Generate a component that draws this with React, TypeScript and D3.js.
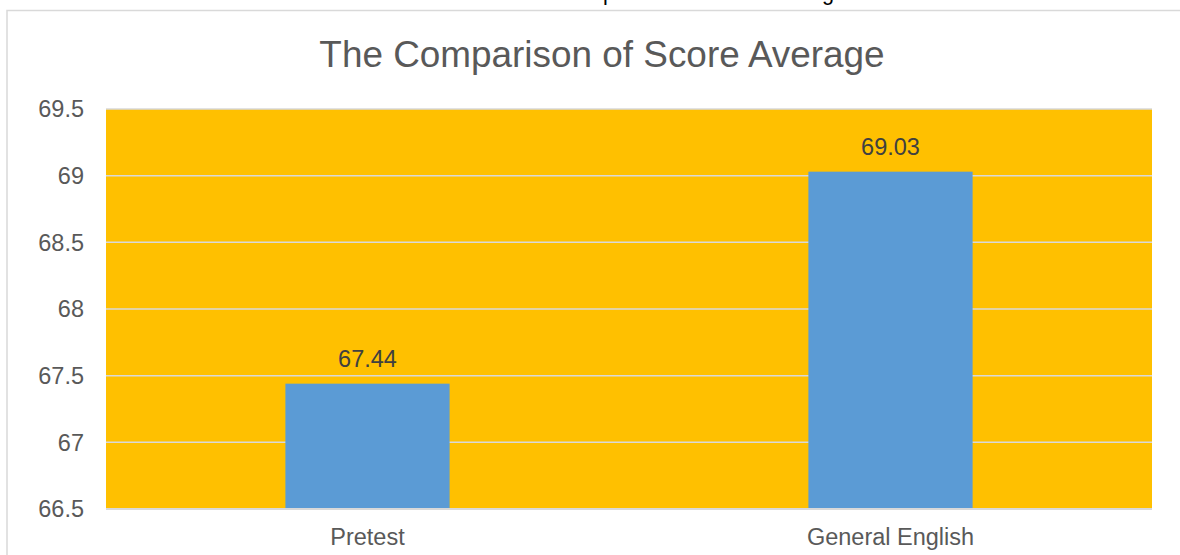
import React from "react";
import * as d3 from "d3";

const categories: string[] = ["Pretest", "General English"];
const values: number[] = [67.44, 69.03];
const valueLabels: string[] = ["67.44", "69.03"];
const yTicks: number[] = [66.5, 67, 67.5, 68, 68.5, 69, 69.5];
const yTickLabels: string[] = ["66.5", "67", "67.5", "68", "68.5", "69", "69.5"];
const title = "The Comparison of Score Average";

const W = 1180;
const H = 555;
const plot = { left: 106, right: 1152, top: 109, bottom: 509 };
const FONT = "Arial, 'Liberation Sans', Helvetica, sans-serif";

export default function App() {
  const x = d3
    .scaleBand<string>()
    .domain(categories)
    .range([plot.left, plot.right])
    .paddingInner(0)
    .paddingOuter(0);
  const y = d3.scaleLinear().domain([66.5, 69.5]).range([plot.bottom, plot.top]);
  const barW = x.bandwidth() * 0.314;

  return (
    <svg
      width={W}
      height={H}
      style={{ position: "absolute", left: 0, top: 0, background: "#fff" }}
    >
      <rect x={0} y={0} width={W} height={H} fill="#ffffff" />
      {/* clipped caption above the chart */}
      <text
        x={680}
        y={0}
        textAnchor="middle"
        fontFamily={FONT}
        fontSize={21.7}
        fill="#000"
      >
        {title}
      </text>
      {/* chart border */}
      <rect
        x={7}
        y={10.5}
        width={1200}
        height={560}
        fill="#fff"
        stroke="#d9d9d9"
        strokeWidth={1.5}
      />
      <text
        x={602}
        y={67}
        textAnchor="middle"
        fontFamily={FONT}
        fontSize={36.9}
        fill="#595959"
      >
        {title}
      </text>
      <rect
        x={plot.left}
        y={plot.top}
        width={plot.right - plot.left}
        height={plot.bottom - plot.top}
        fill="#FFC000"
      />
      {yTicks.map((t, i) => (
        <g key={t}>
          <line
            x1={plot.left}
            x2={plot.right}
            y1={y(t)}
            y2={y(t)}
            stroke="#d9d9d9"
            strokeWidth={i === 0 ? 2 : 1.5}
          />
          <text
            x={84}
            y={y(t)}
            dy="0.36em"
            textAnchor="end"
            fontFamily={FONT}
            fontSize={23.5}
            fill="#595959"
          >
            {yTickLabels[i]}
          </text>
        </g>
      ))}
      {categories.map((c, i) => {
        const cx = (x(c) as number) + x.bandwidth() / 2;
        return (
          <g key={c}>
            <rect
              x={cx - barW / 2}
              y={y(values[i])}
              width={barW}
              height={y(66.5) - y(values[i])}
              fill="#5B9BD5"
            />
            <text
              x={cx}
              y={y(values[i]) - 17}
              textAnchor="middle"
              fontFamily={FONT}
              fontSize={23.5}
              fill="#404040"
            >
              {valueLabels[i]}
            </text>
            <text
              x={cx}
              y={545}
              textAnchor="middle"
              fontFamily={FONT}
              fontSize={23.5}
              fill="#595959"
            >
              {c}
            </text>
          </g>
        );
      })}
      <line
        x1={plot.left}
        x2={plot.right}
        y1={plot.bottom}
        y2={plot.bottom}
        stroke="#d9d9d9"
        strokeWidth={2}
      />
    </svg>
  );
}
